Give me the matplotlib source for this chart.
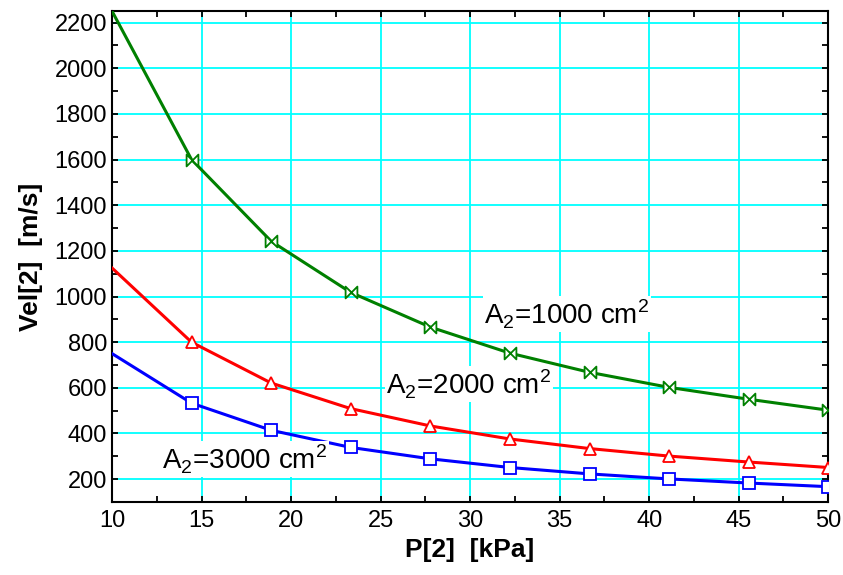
import matplotlib
matplotlib.use("Agg")
import matplotlib.pyplot as plt
from matplotlib.path import Path
import numpy as np

plt.rcParams['font.family'] = ['Liberation Sans', 'DejaVu Sans']
plt.rcParams['mathtext.fontset'] = 'custom'
plt.rcParams['mathtext.rm'] = 'Liberation Sans'

# presion [kPa]
p2 = [10.0, 14.44, 18.89, 23.33, 27.78, 32.22, 36.67, 41.11, 45.56, 50.0]
# velocidad [m/s] para cada area
vel_1000 = [2250, 1600, 1242, 1018, 866, 752, 668, 602, 550, 502]
vel_2000 = [1125, 800, 621, 509, 433, 376, 334, 301, 275, 251]
vel_3000 = [750, 533, 414, 339, 289, 251, 223, 201, 183, 167]

# marcador tipo "corbatin"
corbatin = Path([(-1, 1), (1, -1), (1, 1), (-1, -1), (-1, 1)],
                [Path.MOVETO, Path.LINETO, Path.LINETO, Path.LINETO, Path.CLOSEPOLY])

fig = plt.figure(figsize=(8.43, 5.75), dpi=100)
ax = fig.add_axes([0.1329, 0.127, 0.8495, 0.854])

ax.plot(p2, vel_1000, color="#008000", lw=2.2, marker=corbatin, ms=8.5, markevery=slice(1, None),
        mfc="white", mec="#008000", mew=1.3, zorder=3)
ax.plot(p2, vel_2000, color="#ff0000", lw=2.2, marker="^", ms=8.5, markevery=slice(1, None),
        mfc="white", mec="#ff0000", mew=1.3, zorder=3)
ax.plot(p2, vel_3000, color="#0000ff", lw=2.2, marker="s", ms=8.5, markevery=slice(1, None),
        mfc="white", mec="#0000ff", mew=1.3, zorder=3)

caja = dict(facecolor="white", edgecolor="none", pad=1)
ax.text(30.8, 922, "A$_\\mathregular{2}$=1000 cm$^\\mathregular{2}$", fontsize=20, va="center", ha="left", bbox=caja, zorder=4)
ax.text(25.3, 616, "A$_\\mathregular{2}$=2000 cm$^\\mathregular{2}$", fontsize=20, va="center", ha="left", bbox=caja, zorder=4)
ax.text(12.8, 288, "A$_\\mathregular{2}$=3000 cm$^\\mathregular{2}$", fontsize=20, va="center", ha="left", bbox=caja, zorder=4)

ax.set_xlim(10, 50)
ax.set_ylim(104, 2251)
ax.set_xticks(np.arange(10, 51, 5))
ax.set_xticks(np.arange(12.5, 50, 5), minor=True)
ax.set_yticks(np.arange(200, 2201, 200))
ax.set_yticks(np.arange(100, 2251, 100), minor=True)

ax.grid(which="major", color="#00ffff", lw=1.3)
ax.set_axisbelow(True)
ax.tick_params(which="both", direction="in", top=True, right=True, width=1.3, labelsize=17, length=4)
ax.tick_params(axis="x", pad=6)
for s in ax.spines.values():
    s.set_linewidth(1.5)

ax.set_xlabel("P[2]  [kPa]", fontsize=19, fontweight="bold")
ax.set_ylabel("Vel[2]  [m/s]", fontsize=19, fontweight="bold", labelpad=8)

plt.savefig("out.png", dpi=100)
plt.close()
